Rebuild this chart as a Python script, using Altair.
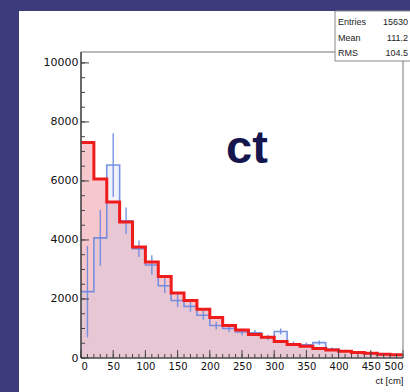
import altair as alt
import pandas as pd

# ---------------- data ----------------
bin_edges = list(range(0, 500, 20))          # 25 bins of width 20, 0..500
red_counts = [7300, 6070, 5290, 4610, 3760, 3250, 2760, 2200, 1950, 1650,
              1370, 1100, 950, 800, 700, 560, 460, 400, 320, 270,
              230, 190, 160, 130, 110]
blue_counts = [2250, 4070, 6540, 4650, 3700, 3150, 2450, 1950, 1750, 1450,
               1100, 1000, 880, 850, 700, 900, 480, 450, 520, 300,
               230, 190, 150, 120, 100]
blue_errors = [1550, 950, 1080, 450, 280, 330, 250, 220, 180, 150,
               130, 120, 110, 100, 90, 100, 80, 70, 70, 60,
               50, 50, 40, 40, 40]
x_tick_labels = [0, 50, 100, 150, 200, 250, 300, 350, 400, 450, 500]
y_tick_labels = [0, 2000, 4000, 6000, 8000, 10000]
x_minor_ticks = list(range(0, 501, 10))
y_minor_ticks = list(range(0, 10001, 500))
stats_labels = ["Entries", "Mean", "RMS"]
stats_values = ["15630", "111.2", "104.5"]
title_text = "ct"
x_title = "ct [cm]"

# ---------------- geometry ----------------
W, H = 322, 306
PAD_L, PAD_T, PAD_R, PAD_B = 81, 52, 7, 34
XD = [0, 500]
YD = [0, 10370]
BIN_W = 20

xs = alt.Scale(domain=XD, nice=False, zero=False)
ys = alt.Scale(domain=YD, nice=False, zero=False)

x_axis = alt.Axis(values=x_tick_labels, ticks=False, domain=False, grid=False,
                  format="d", labelFlush=True, labelOverlap=False,
                  labelFont="DejaVu Sans", labelFontSize=10,
                  labelColor="#111", labelPadding=3, zindex=2,
                  title=x_title, titleAnchor="end", titleAlign="right",
                  titleFont="Liberation Sans", titleFontSize=9.5,
                  titleFontWeight="normal", titleColor="#111", titlePadding=4)
y_axis = alt.Axis(values=y_tick_labels, ticks=False, domain=False, grid=False,
                  format="d", labelFlush=False, labelOverlap=False,
                  labelFont="DejaVu Sans", labelFontSize=11, zindex=2,
                  labelColor="#111", labelPadding=3, title=None)


def X(field):
    return alt.X(field, scale=xs, axis=x_axis)


def Y(field):
    return alt.Y(field, scale=ys, axis=y_axis)


red_df = pd.DataFrame({"edge": bin_edges + [XD[1]],
                       "count": red_counts + [red_counts[-1]]})
blue_df = pd.DataFrame({"edge": bin_edges + [XD[1]],
                        "count": blue_counts + [blue_counts[-1]]})
err_df = pd.DataFrame({"edge": [e + BIN_W / 2 for e in bin_edges],
                       "lo": [c - e for c, e in zip(blue_counts, blue_errors)],
                       "hi": [c + e for c, e in zip(blue_counts, blue_errors)]})
one = pd.DataFrame({"a": [0]})

panel = alt.Chart(one).mark_rect(color="white").encode(
    x=alt.value(-PAD_L + 19), x2=alt.value(W + PAD_R + 5),
    y=alt.value(-PAD_T + 11), y2=alt.value(H + PAD_B + 5))

red_area = alt.Chart(red_df).mark_area(
    interpolate="step-after", color="#f6c8ce", opacity=1).encode(
    x=X("edge:Q"), y=Y("count:Q"))

blue_area = alt.Chart(blue_df).mark_area(
    interpolate="step-after", color="#b8c2f0", opacity=0.22).encode(
    x=X("edge:Q"), y=Y("count:Q"))

blue_line = alt.Chart(blue_df).mark_line(
    interpolate="step-after", color="#6a88e0", strokeWidth=1.6, opacity=0.9).encode(
    x=X("edge:Q"), y=Y("count:Q"))

blue_err = alt.Chart(err_df).mark_rule(color="#6a88e0", strokeWidth=1.4, opacity=0.9).encode(
    x=X("edge:Q"), y=Y("lo:Q"), y2="hi:Q")

red_line = alt.Chart(red_df).mark_line(
    interpolate="step-after", color="#f01c1c", strokeWidth=3).encode(
    x=X("edge:Q"), y=Y("count:Q"))

xmin_df = pd.DataFrame({"edge": x_minor_ticks})
xmaj_df = pd.DataFrame({"edge": x_tick_labels})
ymin_df = pd.DataFrame({"count": y_minor_ticks})
ymaj_df = pd.DataFrame({"count": y_tick_labels})

tick_col = "#444"
x_minor = alt.Chart(xmin_df).mark_rule(color=tick_col, strokeWidth=1).encode(
    x=X("edge:Q"), y=alt.value(H), y2=alt.value(H - 4))
x_major = alt.Chart(xmaj_df).mark_rule(color=tick_col, strokeWidth=1).encode(
    x=X("edge:Q"), y=alt.value(H), y2=alt.value(H - 8))
y_minor = alt.Chart(ymin_df).mark_rule(color=tick_col, strokeWidth=1).encode(
    y=Y("count:Q"), x=alt.value(0), x2=alt.value(4))
y_major = alt.Chart(ymaj_df).mark_rule(color=tick_col, strokeWidth=1).encode(
    y=Y("count:Q"), x=alt.value(0), x2=alt.value(8))

frame = alt.Chart(one).mark_rect(filled=False, stroke="#777", strokeWidth=1).encode(
    x=alt.value(0), x2=alt.value(W), y=alt.value(0), y2=alt.value(H))
axes_lines = alt.Chart(one).mark_rule(color="#333", strokeWidth=1.2).encode(
    x=alt.value(0), x2=alt.value(0), y=alt.value(0), y2=alt.value(H))
axes_lines2 = alt.Chart(one).mark_rule(color="#333", strokeWidth=1.2).encode(
    x=alt.value(0), x2=alt.value(W), y=alt.value(H), y2=alt.value(H))

title = alt.Chart(one).mark_text(
    font="Liberation Sans", fontSize=47, fontWeight="bold", color="#16164f",
    align="center", baseline="alphabetic").encode(
    x=alt.value(166), y=alt.value(111), text=alt.value(title_text))

stats_box = alt.Chart(one).mark_rect(fill="white", stroke="#888", strokeWidth=1).encode(
    x=alt.value(254), x2=alt.value(W + PAD_R + 5),
    y=alt.value(-41), y2=alt.value(9))

layers = [panel, red_area, blue_area, blue_line, blue_err, red_line,
          x_minor, x_major, y_minor, y_major, frame, axes_lines, axes_lines2,
          title, stats_box]

for i, (lab, val) in enumerate(zip(stats_labels, stats_values)):
    yy = -30 + 15.5 * i
    layers.append(alt.Chart(one).mark_text(
        font="Liberation Sans", fontSize=9, color="#222", align="left",
        baseline="middle").encode(x=alt.value(257), y=alt.value(yy), text=alt.value(lab)))
    layers.append(alt.Chart(one).mark_text(
        font="Liberation Sans", fontSize=9, color="#222", align="right",
        baseline="middle").encode(x=alt.value(W + PAD_R - 2), y=alt.value(yy), text=alt.value(val)))

chart = alt.layer(*layers).properties(
    width=W, height=H,
    padding={"left": PAD_L, "top": PAD_T, "right": PAD_R, "bottom": PAD_B},
    autosize=alt.AutoSizeParams(type="none"),
    background="#3c3c7c",
).configure_view(stroke=None)

chart.save("out.html", embed_options={"renderer": "svg", "actions": False})
